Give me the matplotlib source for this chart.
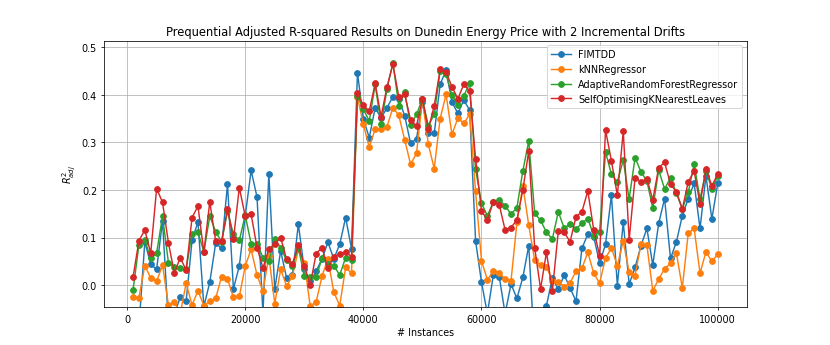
import numpy as np
import matplotlib
matplotlib.use("Agg")
import matplotlib.pyplot as plt

instances = np.arange(1000, 100001, 1000)

fimtdd = [
    -0.1, -0.09, 0.091, 0.044, 0.033, 0.135, -0.08, -0.06, -0.026, -0.034,
    0.094, 0.133, -0.045, 0.006, 0.088, 0.078, 0.212, -0.008, 0.04, 0.145,
    0.241, 0.185, -0.06, 0.234, -0.009, 0.072, 0.015, 0.022, 0.128, 0.033,
    0.008, 0.029, 0.055, 0.09, 0.055, 0.086, 0.142, 0.076, 0.447, 0.349,
    0.31, 0.373, 0.351, 0.373, 0.396, 0.391, 0.356, 0.298, 0.308, 0.384,
    0.319, 0.319, 0.422, 0.452, 0.385, 0.361, 0.389, 0.368, 0.093, 0.006,
    -0.06, 0.021, 0.018, -0.06, 0.002, -0.028, 0.016, 0.083, -0.14, -0.1,
    -0.043, 0.015, -0.009, 0.021, -0.006, -0.034, 0.077, 0.107, 0.102, 0.046,
    0.086, 0.189, -0.001, 0.132, 0.002, 0.037, 0.083, 0.119, 0.042, 0.13,
    0.182, 0.056, 0.091, 0.146, 0.182, 0.214, 0.119, 0.23, 0.139, 0.214,
]

knn = [
    -0.026, -0.027, 0.041, 0.015, 0.008, 0.042, -0.042, -0.036, -0.06, 0.004,
    -0.042, -0.012, -0.043, -0.034, -0.028, 0.018, 0.013, -0.026, -0.024, 0.04,
    0.075, 0.021, -0.013, 0.061, -0.039, 0.033, -0.002, 0.019, 0.075, 0.047,
    -0.044, -0.036, 0.019, 0.055, -0.015, -0.043, 0.037, 0.025, 0.396, 0.338,
    0.29, 0.328, 0.329, 0.333, 0.373, 0.357, 0.305, 0.254, 0.277, 0.391,
    0.296, 0.245, 0.35, 0.401, 0.317, 0.351, 0.34, 0.359, 0.197, 0.051,
    0.011, 0.029, 0.025, 0.013, 0.009, 0.132, 0.209, 0.126, 0.053, 0.042,
    0.039, 0.008, 0.007, -0.003, 0.005, 0.029, 0.035, 0.069, 0.025, 0.004,
    0.057, 0.078, 0.041, 0.092, 0.027, 0.02, 0.086, 0.084, -0.012, 0.013,
    0.034, 0.046, 0.067, -0.006, 0.109, 0.119, 0.025, 0.07, 0.05, 0.065,
]

arf = [
    -0.011, 0.084, 0.095, 0.056, 0.067, 0.145, 0.047, 0.038, 0.036, 0.034,
    0.108, 0.111, 0.07, 0.145, 0.112, 0.091, 0.155, 0.107, 0.094, 0.147,
    0.087, 0.087, 0.058, 0.051, 0.096, 0.079, 0.052, 0.04, 0.079, 0.019,
    0.017, 0.017, 0.056, 0.044, 0.041, 0.021, 0.058, 0.053, 0.398, 0.37,
    0.345, 0.422, 0.338, 0.412, 0.468, 0.377, 0.405, 0.337, 0.359, 0.391,
    0.335, 0.359, 0.45, 0.443, 0.399, 0.378, 0.398, 0.424, 0.244, 0.172,
    0.146, 0.174, 0.179, 0.167, 0.149, 0.163, 0.24, 0.303, 0.151, 0.136,
    0.111, 0.097, 0.154, 0.12, 0.128, 0.118, 0.13, 0.14, 0.104, 0.112,
    0.28, 0.233, 0.217, 0.263, 0.181, 0.268, 0.238, 0.219, 0.162, 0.242,
    0.202, 0.226, 0.193, 0.16, 0.195, 0.254, 0.181, 0.24, 0.202, 0.23,
]

soknl = [
    0.016, 0.093, 0.116, 0.067, 0.203, 0.174, 0.089, 0.025, 0.058, 0.031,
    0.142, 0.166, 0.069, 0.175, 0.092, 0.092, 0.16, 0.096, 0.205, 0.145,
    0.149, 0.079, 0.036, 0.075, 0.087, 0.1, 0.054, 0.045, 0.084, 0.041,
    0.0, 0.066, 0.079, 0.035, 0.06, 0.065, 0.069, 0.06, 0.403, 0.378,
    0.366, 0.424, 0.354, 0.417, 0.464, 0.396, 0.401, 0.347, 0.335, 0.391,
    0.328, 0.377, 0.454, 0.448, 0.417, 0.392, 0.422, 0.408, 0.266, 0.156,
    0.137, 0.175, 0.169, 0.116, 0.121, 0.137, 0.2, 0.282, 0.079, -0.008,
    0.069, -0.012, 0.113, 0.111, 0.091, 0.144, 0.154, 0.198, 0.116, 0.062,
    0.326, 0.261, 0.189, 0.324, 0.095, 0.226, 0.217, 0.224, 0.179, 0.247,
    0.258, 0.212, 0.196, 0.16, 0.217, 0.24, 0.17, 0.244, 0.209, 0.233,
]

series = [
    ("FIMTDD", fimtdd),
    ("kNNRegressor", knn),
    ("AdaptiveRandomForestRegressor", arf),
    ("SelfOptimisingKNearestLeaves", soknl),
]

fig = plt.figure(figsize=(12, 5))
for name, values in series:
    plt.plot(instances, values, marker="o", label=name)

plt.ylim(-0.046, 0.514)
plt.xlabel("# Instances")
plt.ylabel("$R^2_{adj}$")
plt.title("Prequential Adjusted R-squared Results on Dunedin Energy Price with 2 Incremental Drifts")
plt.legend(loc="upper right")
plt.grid(True)
fig.savefig("out.png", dpi=830 / 12)
